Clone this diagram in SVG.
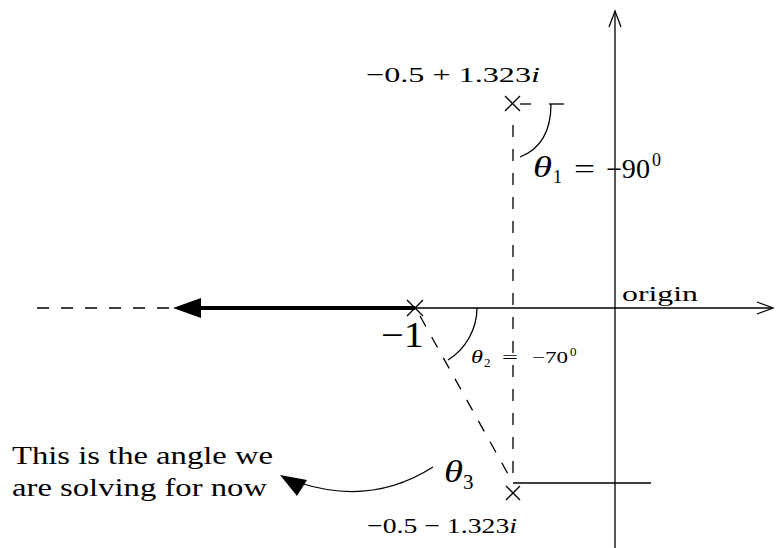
<svg xmlns="http://www.w3.org/2000/svg" width="776" height="548" viewBox="0 0 776 548">
<style>
.ln{stroke:#000;stroke-width:1.3;fill:none}
.ds{stroke:#000;stroke-width:1.3;fill:none;stroke-dasharray:12 12}
.t{font-family:"Liberation Serif","DejaVu Serif",serif;fill:#000}
.i{font-style:italic}
</style>
<rect width="776" height="548" fill="#fff"/>
<g id="connectors">
<line class="ln" x1="615" y1="548" x2="615" y2="11"/>
<polyline class="ln" points="609,27 615,11 621,27"/>
<line class="ln" x1="415" y1="308" x2="772" y2="308"/>
<polyline class="ln" points="757,302 773,308 757,314"/>
<line class="ds" x1="37" y1="308" x2="172" y2="308" stroke-dasharray="11 10"/>
<line stroke="#000" stroke-width="4" x1="415" y1="308" x2="195" y2="308"/>
<polygon points="173,308 201,298 201,318" fill="#000"/>
<line class="ds" x1="513" y1="125" x2="513" y2="482"/>
<line class="ds" x1="420" y1="316" x2="513" y2="483"/>
<line class="ln" x1="513" y1="483" x2="651" y2="483"/>
<line class="ln" x1="520" y1="104" x2="531" y2="104"/>
<line class="ln" x1="549" y1="104" x2="564" y2="104"/>
<path class="ln" d="M551,104 Q551,145 520,157"/>
<path class="ln" d="M477,308 A62,62 0 0 1 448,360"/>
<path class="ln" d="M433,467 Q372,506 300,483"/>
<polygon points="280,475 307,480 297,496" fill="#000"/>
</g>
<g id="n_minus1">
<path class="ln" d="M407,300 L423,316 M423,300 L407,316"/>
<text class="t" x="381" y="347" font-size="35" textLength="43" lengthAdjust="spacingAndGlyphs">−1</text>
</g>
<g id="n_top">
<path class="ln" d="M505,96 L520,111 M520,96 L505,111"/>
<text class="t" x="366" y="82" font-size="22" textLength="174" lengthAdjust="spacingAndGlyphs">−0.5 + 1.323<tspan class="i">i</tspan></text>
</g>
<g id="n_bottom">
<path class="ln" d="M506,486 L520,500 M520,486 L506,500"/>
<text class="t" x="367" y="533" font-size="22" textLength="150" lengthAdjust="spacingAndGlyphs">−0.5 − 1.323<tspan class="i">i</tspan></text>
</g>
<g id="labels">
<text class="t i" x="533" y="177" font-size="29" textLength="19" lengthAdjust="spacingAndGlyphs">θ</text>
<text class="t" x="553" y="183" font-size="18">1</text>
<text class="t" x="574" y="178" font-size="27" textLength="21" lengthAdjust="spacingAndGlyphs">=</text>
<text class="t" x="606" y="178" font-size="27" textLength="44" lengthAdjust="spacingAndGlyphs">−90</text>
<text class="t" x="652" y="166" font-size="18">0</text>
<text class="t i" x="471" y="363" font-size="18" textLength="12" lengthAdjust="spacingAndGlyphs">θ</text>
<text class="t" x="484" y="367" font-size="13">2</text>
<text class="t" x="502" y="363" font-size="17" textLength="16" lengthAdjust="spacingAndGlyphs">=</text>
<text class="t" x="532" y="363" font-size="17" textLength="36" lengthAdjust="spacingAndGlyphs">−70</text>
<text class="t" x="570" y="356" font-size="13">0</text>
<text class="t i" x="444" y="482" font-size="31" textLength="19" lengthAdjust="spacingAndGlyphs">θ</text>
<text class="t" x="463" y="489" font-size="21">3</text>
<text class="t" x="622" y="301" font-size="22" textLength="76" lengthAdjust="spacingAndGlyphs">origin</text>
<text class="t" x="12" y="464" font-size="25" textLength="261" lengthAdjust="spacingAndGlyphs">This is the angle we</text>
<text class="t" x="12" y="496" font-size="25" textLength="255" lengthAdjust="spacingAndGlyphs">are solving for now</text>
</g>
</svg>
